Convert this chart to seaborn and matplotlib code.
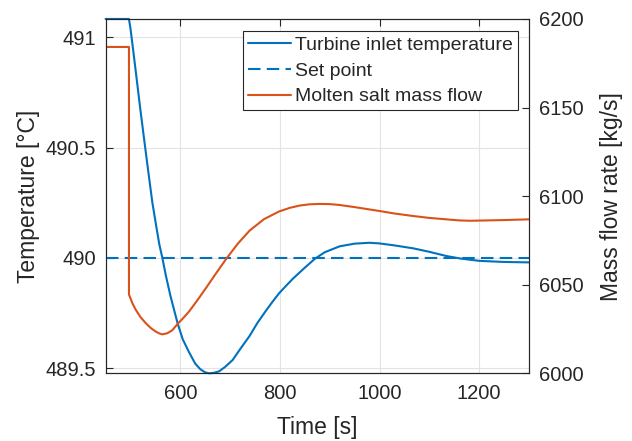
import matplotlib
matplotlib.use("Agg")
import matplotlib.pyplot as plt
import seaborn as sns
import pandas as pd

# turbine inlet temperature [°C]
time_temp = [450, 497, 500, 505, 512, 520, 529, 537, 544, 552, 558, 564, 571, 580, 588,
             595, 605, 618, 630, 640, 650, 658, 667, 678, 690, 705, 720, 739, 755, 772,
             785, 798, 812, 826, 850, 870, 890, 920, 950, 980, 1000, 1030, 1067, 1100,
             1134, 1161, 1200, 1250, 1300]
temp = [491.083, 491.083, 491.04, 490.95, 490.82, 490.67, 490.51, 490.37, 490.25, 490.14,
        490.06, 490.00, 489.92, 489.83, 489.76, 489.70, 489.63, 489.57, 489.52, 489.495,
        489.48, 489.476, 489.478, 489.485, 489.505, 489.536, 489.585, 489.645, 489.705,
        489.76, 489.80, 489.838, 489.872, 489.905, 489.955, 489.995, 490.025, 490.052,
        490.064, 490.068, 490.065, 490.056, 490.043, 490.027, 490.008, 489.997, 489.986,
        489.981, 489.979]

set_point = 490.0

# molten salt mass flow [kg/s]
time_flow = [450, 497, 497, 504, 511, 520, 531, 541, 551, 558, 564, 574, 584, 595, 606,
             618, 635, 652, 672, 692, 715, 739, 768, 798, 820, 840, 860, 880, 900, 920,
             950, 1000, 1030, 1067, 1100, 1134, 1160, 1181, 1200, 1250, 1300]
flow = [6184.2, 6184.2, 6044.5, 6039.5, 6035.7, 6031.8, 6028.2, 6025.5, 6023.5, 6022.5,
        6022.0, 6022.6, 6024.3, 6028.0, 6031.2, 6035.0, 6041.5, 6048.3, 6056.5, 6064.5,
        6073.0, 6080.5, 6087.0, 6091.3, 6093.4, 6094.7, 6095.4, 6095.6, 6095.5, 6095.0,
        6093.8, 6091.6, 6090.2, 6088.8, 6087.7, 6086.9, 6086.3, 6086.1, 6086.2, 6086.5,
        6086.9]

temp_ticks = [489.5, 490, 490.5, 491]
temp_ticklabels = ["489.5", "490", "490.5", "491"]
flow_ticks = [6000, 6050, 6100, 6150, 6200]
time_ticks = [600, 800, 1000, 1200]

blue = "#0072BD"
orange = "#D95319"
axcol = "#262626"

sns.set_style("white")
plt.rcParams["font.family"] = ["Liberation Sans", "DejaVu Sans"]

df_t = pd.DataFrame({"t": time_temp, "v": temp})
df_s = pd.DataFrame({"t": [time_temp[0], time_temp[-1]], "v": [set_point, set_point]})
df_f = pd.DataFrame({"t": time_flow, "v": flow})

fig = plt.figure(figsize=(6.32, 4.41), dpi=100)
ax = fig.add_axes([0.167, 0.1535, 0.67, 0.8035])
ax2 = ax.twinx()

sns.lineplot(data=df_t, x="t", y="v", ax=ax, color=blue, lw=1.5,
             estimator=None, sort=False, label="Turbine inlet temperature")
ax.lines[-1].set_clip_on(False)
sns.lineplot(data=df_s, x="t", y="v", ax=ax, color=blue, lw=1.5,
             estimator=None, sort=False, label="Set point")
ax.lines[-1].set_dashes((6, 3))
sns.lineplot(data=df_f, x="t", y="v", ax=ax2, color=orange, lw=1.5,
             estimator=None, sort=False, label="Molten salt mass flow")

ax.set_xlim(450, 1300)
ax.set_ylim(min(temp), max(temp))
ax2.set_ylim(6000, 6200)
ax.set_xticks(time_ticks)
ax.set_yticks(temp_ticks)
ax.set_yticklabels(temp_ticklabels)
ax2.set_yticks(flow_ticks)

ax.grid(True, color="#e3e3e3", lw=0.8)
ax.set_axisbelow(True)

ax.set_xlabel("Time [s]", fontsize=16.5, color=axcol, labelpad=9)
ax.set_ylabel("Temperature [°C]", fontsize=16.5, color=axcol, labelpad=4)
ax2.set_ylabel("Mass flow rate [kg/s]", fontsize=16.5, color=axcol, labelpad=12)

for a in (ax, ax2):
    for s in a.spines.values():
        s.set_color(axcol)
        s.set_linewidth(0.8)
ax.tick_params(axis="x", direction="in", top=True, length=5, labelsize=14.5,
               colors=axcol, pad=8)
ax.tick_params(axis="y", direction="in", length=5, labelsize=14.5, colors=axcol, pad=7)
ax2.tick_params(axis="y", direction="in", length=5, labelsize=14.5, colors=axcol, pad=7)

h1, l1 = ax.get_legend_handles_labels()
h2, l2 = ax2.get_legend_handles_labels()
if ax2.get_legend() is not None:
    ax2.get_legend().remove()
ax.legend(h1 + h2, l1 + l2, loc="upper right", bbox_to_anchor=(0.973, 0.965),
          borderaxespad=0, fontsize=14, frameon=True, fancybox=False,
          framealpha=1, edgecolor=axcol, handlelength=2.2, handletextpad=0.2,
          labelspacing=0.42, borderpad=0.25)
ax.get_legend().get_frame().set_linewidth(0.8)

fig.savefig("out.png", dpi=100)
